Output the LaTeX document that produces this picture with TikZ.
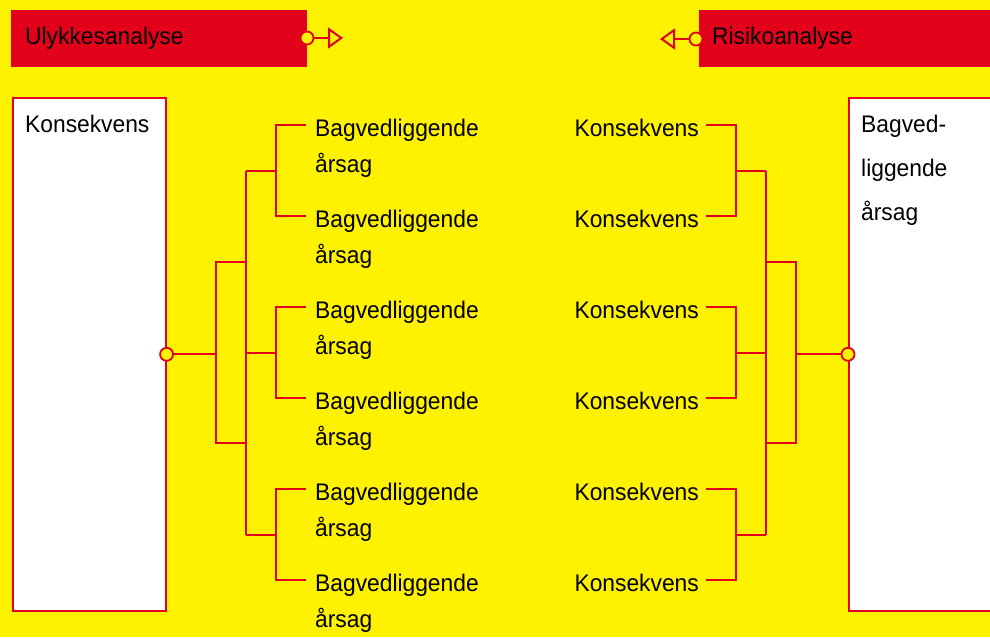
\documentclass[tikz,border=0pt]{standalone}
\usepackage{fontspec}
\setmainfont[FakeStretch=0.95]{Liberation Sans}
\usetikzlibrary{arrows.meta}
\definecolor{gulbg}{RGB}{255,242,0}
\definecolor{roed}{RGB}{226,0,26}

\begin{document}
\begin{tikzpicture}[
  x=1pt, y=-1pt,
  bar/.style={fill=roed,draw=roed,anchor=north west,minimum height=56pt,inner xsep=14pt,align=left,font=\fontsize{24}{29}\selectfont},
  box/.style={fill=white,draw=roed,line width=1.6pt,anchor=north west,minimum height=513pt},
  leaf/.style={inner sep=0pt,align=left,font=\fontsize{24}{36}\selectfont},
  dot/.style={circle,draw=roed,fill=gulbg,line width=1.8pt,inner sep=0pt,minimum size=13pt},
  wire/.style={draw=roed,line width=2pt},
  tip/.style={-{Triangle[open,length=15pt,width=21pt]}}
]

\fill[gulbg] (0,0) rectangle (990,637);
\useasboundingbox (0,0) rectangle (990,637);

% titles
\node[bar,text width=267pt] (ulyk) at (11,10) {Ulykkesanalyse};
\node[bar,inner xsep=13pt,text width=274pt] (risiko) at (699,10) {Risikoanalyse};

\node[dot] (ucirc) at (307,38) {};
\coordinate (uend) at (343,38);
\draw[wire,tip] (ucirc) -- (uend);

\node[dot] (rcirc) at (696,39) {};
\coordinate (rend) at (660,39);
\draw[wire,tip] (rcirc) -- (rend);

% boxes
\node[box,minimum width=153pt,
  label={[anchor=north west,inner sep=0pt,xshift=13pt,yshift=-18pt,font=\fontsize{24}{29}\selectfont]north west:Konsekvens}]
  (konsL) at (12,97) {};
\node[box,minimum width=170pt,
  label={[anchor=north west,inner sep=0pt,xshift=13pt,yshift=-18pt,align=left,font=\fontsize{24}{44}\selectfont]north west:Bagved-\\liggende\\årsag}]
  (bagR) at (848,97) {};

% left tree
\foreach \i/\y in {1/125,2/216,3/307,4/398,5/489,6/580} {
  \node[leaf,anchor=north west] (b\i) at (315,\y-6) {Bagvedliggende\\årsag};
  \coordinate (bl\i) at (306,\y);
}
\foreach \j/\a/\b/\m in {1/1/2/170.5,2/3/4/352.5,3/5/6/534.5} {
  \coordinate (bp\j) at (276,\m);
  \coordinate (bm\j) at (246,\m);
  \draw[wire] (bl\a) -| (bp\j) |- (bl\b);
  \draw[wire] (bm\j) -- (bp\j);
}
\draw[wire] (bm1) -- (bm3);
\coordinate (bo1) at (216,262);
\coordinate (bo2) at (216,443);
\draw[wire] (bo1 -| bm1) -- (bo1) -- (bo2) -- (bo2 -| bm1);

% right tree
\foreach \i/\y in {1/125,2/216,3/307,4/398,5/489,6/580} {
  \node[leaf,anchor=base east] (k\i) at (699,\y+11) {Konsekvens};
  \coordinate (kl\i) at (706,\y);
}
\foreach \j/\a/\b/\m in {1/1/2/170.5,2/3/4/352.5,3/5/6/534.5} {
  \coordinate (kp\j) at (736,\m);
  \coordinate (km\j) at (766,\m);
  \draw[wire] (kl\a) -| (kp\j) |- (kl\b);
  \draw[wire] (km\j) -- (kp\j);
}
\draw[wire] (km1) -- (km3);
\coordinate (ko1) at (796,262);
\coordinate (ko2) at (796,443);
\draw[wire] (ko1 -| km1) -- (ko1) -- (ko2) -- (ko2 -| km1);

% links to the boxes
\node[dot] (lcirc) at (konsL.east) {};
\node[dot] (rcirc2) at (bagR.west) {};
\draw[wire] (lcirc) -- (bo1 |- lcirc);
\draw[wire] (rcirc2) -- (ko1 |- rcirc2);

\end{tikzpicture}
\end{document}
